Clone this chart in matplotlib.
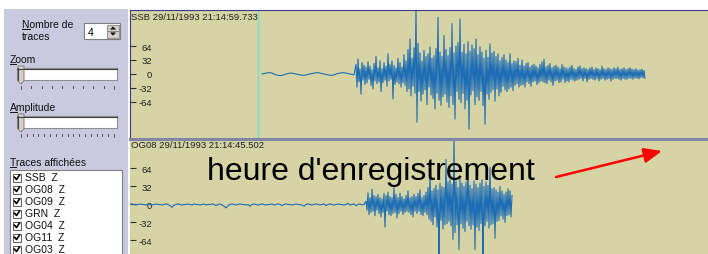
import numpy as np
import matplotlib
matplotlib.use("Agg")
import matplotlib.pyplot as plt
from matplotlib.patches import Rectangle, Polygon

plt.rcParams["axes.unicode_minus"] = False

# ---- data ----
n_traces = 4
stations = ["SSB  Z", "OG08  Z", "OG09  Z", "GRN  Z", "OG04  Z", "OG11  Z", "OG03  Z"]
trace_titles = ["SSB 29/11/1993 21:14:59.733", "OG08 29/11/1993 21:14:45.502"]
amp_ticks = [64, 32, 0, -32, -64]
window = 57.8        # seconds shown in each trace panel
dt_noise = 0.2       # pre-event noise, decimated
dt_event = 0.1       # event part

ssb_pick = 12.8
ssb_noise_t0 = 13.2
ssb_noise = [
    0, 1, 2, 3, 3, 2, 0, -2, -3, -4, -3, -2, 0, 1, 2, 2, 1, 0, -1, -2, -3, -3, -2, -1,
    0, 1, 2, 3, 3, 2, 1, 0, -1, -2, -3, -3, -2, 0, 1, 2, 3, 3, 2, 1, 0, -1, -2,
]
ssb_event_t0 = 22.6
ssb_event = [
    22, -30, 34, -18, 12, -46, 26, -14, 20, -24,
    16, -20, 28, -12, 18, -26, 10, -34, 24, -16,
    40, -22, 14, -18, 30, -40, 12, -20, 26, -14,
    18, -28, 46, -16, 22, -12, 30, -57, 20, -24,
    14, -18, 36, -22, 26, -30, 16, -20, 44, -26,
    30, -40, 56, -34, 80, -50, 36, -28, 60, -44,
    150, -110, 70, -40, 48, -62, 30, -46, 54, -36,
    40, -70, 46, -30, 62, -48, 36, -56, 42, -80,
    58, -44, 130, -60, 50, -72, 40, -52, 88, -46,
    56, -64, 42, -76, 60, -50, 115, -70, 48, -103,
    64, -40, 72, -58, 126, -66, 50, -44, 68, -80,
    46, -60, 74, -126, 52, -48, 66, -38, 58, -70,
    80, -52, 44, -60, 62, -40, 50, -72, 36, -115,
    54, -46, 38, -58, 69, -42, 48, -36, 52, -62,
    40, -34, 46, -50, 30, -42, 38, -28, 44, -36,
    32, -40, 26, -34, 46, -30, 24, -38, 30, -26,
    28, -22, 36, -30, 20, -26, 32, -24, 18, -30,
    24, -18, 26, -22, 16, -28, 20, -18, 22, -16,
    18, -24, 14, -20, 22, -16, 28, -18, 34, -20,
    16, -22, 20, -14, 24, -18, 14, -26, 18, -16,
    20, -14, 16, -20, 12, -18, 22, -12, 16, -20,
    14, -16, 12, -18, 16, -12, 20, -14, 12, -16,
    10, -14, 16, -12, 18, -10, 12, -16, 14, -10,
    12, -18, 10, -12, 14, -10, 16, -12, 10, -14,
    14, -10, 12, -16, 10, -12, 18, -10, 12, -14,
    10, -12, 14, -10, 12, -16, 10, -12, 14, -10,
    12, -10, 16, -12, 10, -14, 12, -10, 14, -12,
    10, -12, 12, -9, 14, -10, 11, -12, 10, -9,
    12, -10, 9, -11, 10, -8, 11, -9, 8, -10,
]

og08_noise_t0 = 0.0
og08_noise = [
    0, 1, 0, -1, 0, 1, 0, 0, -1, 1, 0, -1, 0, 1, 0, 0, -1, 0, 1, 0,
    -2, -5, -1, 0, 1, 0, -1, 0, 0, 1, 0, -1, 1, 0, 0, -1, 0, 1, -1, 0,
    0, 1, 0, -2, 0, 1, -1, -3, -6, -2, 0, 1, 0, -1, 0, 1, 0, 0, -1, 0,
    -3, 0, 1, 0, -1, 0, 1, 0, -1, 0, 0, 1, -1, 0, 1, 0, -2, 0, 1, 0,
    0, -1, 0, 1, 0, 0, -1, -3, 0, 1, 0, -1, 0, 1, 0, -1, 0, 1, -2, 0,
    1, 0, -1, 0, 1, 0, 0, -1, 0, 2, -1, 0, 1, -2, 0, 1, -1, 0,
]
og08_event_t0 = 23.6
og08_event = [
    6, -10, 21, -18, 12, -14, 27, -12, 16, -20,
    14, -10, 18, -16, 12, -22, 10, -14, 20, -40,
    16, -12, 22, -18, 14, -20, 12, -16, 30, -14,
    18, -24, 12, -16, 20, -12, 14, -18, 10, -14,
    16, -12, 24, -14, 12, -18, 14, -22, 18, -12,
    14, -16, 20, -12, 26, -18, 12, -20, 16, -14,
    22, -18, 30, -26, 53, -30, 24, -36, 28, -22,
    34, -40, 26, -95, 38, -28, 32, -44, 30, -36,
    80, -34, 40, -30, 44, -38, 36, -62, 120, -50,
    42, -36, 30, -80, 46, -34, 38, -42, 32, -48,
    40, -30, 71, -38, 34, -44, 28, -36, 42, -80,
    36, -40, 30, -46, 38, -34, 44, -95, 32, -38,
    40, -30, 34, -42, 66, -36, 28, -34, 30, -60,
    26, -30, 22, -28, 32, -20, 24, -26, 18, -32,
    22, -20, 28, -18, 24, -22, 16,
]

# ---- look ----
W, H = 708, 255
khaki = "#d6d3a4"
lav = "#c9c9df"
wave = "#1c6db5"
frame = "#3a3a8a"
small = ["Liberation Sans", "DejaVu Sans"]

fig = plt.figure(figsize=(W / 100, H / 100), dpi=100)
fig.patch.set_facecolor("white")

# background UI layer in pixel coordinates
ui = fig.add_axes([0, 0, 1, 1], zorder=0)
ui.set_xlim(0, W)
ui.set_ylim(H, 0)
ui.axis("off")

ui.add_patch(Rectangle((4, 10), 124, 245, fc=lav, ec="none"))


def label(x, y, s, ul=None):
    ui.text(x, y, s, fontsize=7.5, family=small, va="center", ha="left", color="#101010")
    if ul:
        ui.plot([x, x + ul], [y + 4.5, y + 4.5], color="#101010", lw=0.7)


label(22, 25, "Nombre de", ul=7.5)
label(22, 37, "traces")
ui.add_patch(Rectangle((84, 24), 36, 16, fc="white", ec="#7f7f7f", lw=0.8))
ui.text(88, 32.5, str(n_traces), fontsize=7.5, family=small, va="center")
ui.add_patch(Rectangle((107, 25.5), 12, 13, fc="#d4d0c8", ec="#808080", lw=0.6))
ui.plot([107, 119], [32, 32], color="#808080", lw=0.6)
ui.add_patch(Polygon([(110, 30.5), (116, 30.5), (113, 27.5)], fc="black", ec="none"))
ui.add_patch(Polygon([(110, 33.5), (116, 33.5), (113, 36.5)], fc="black", ec="none"))


def slider(y, nticks):
    ui.add_patch(Rectangle((17, y), 100, 12, fc="white", ec="#909090", lw=0.8))
    ui.plot([17, 117], [y + 0.5, y + 0.5], color="#404040", lw=0.8)
    ui.plot([17.5, 17.5], [y, y + 12], color="#404040", lw=0.8)
    ui.add_patch(Polygon([(18, y - 2), (24, y - 2), (24, y + 13), (21, y + 16), (18, y + 13)],
                         fc="#d4d0c8", ec="#808080", lw=0.7))
    for i, x in enumerate(np.linspace(21, 114, nticks)):
        ln = 3 if i in (0, nticks - 1) else 1.5
        ui.plot([x, x], [y + 18, y + 18 + ln], color="#505050", lw=0.7)


label(10, 60, "Zoom", ul=6.4)
slider(69, 10)
label(10, 108, "Amplitude", ul=6.9)
slider(117, 17)
label(10, 163, "Traces affichées", ul=6.4)

ui.add_patch(Rectangle((10, 171), 112, 90, fc="white", ec="#808080", lw=0.8))
for i, name in enumerate(stations):
    y = 178.5 + 12 * i
    ui.add_patch(Rectangle((13, y - 4), 8, 8, fc="white", ec="#404040", lw=0.6))
    ui.plot([14.5, 16.5, 19.5], [y - 0.3, y + 2, y - 2.5], color="black", lw=1.2)
    ui.text(25, y, name, fontsize=7.5, family=small, va="center", color="#101010")


# ---- trace panels ----
def trace_axes(bottom, top, noise, noise_t0, event, event_t0, ylim, title):
    ax = fig.add_axes([130 / W, 1 - bottom / H, 1 - 130 / W, (bottom - top) / H], zorder=1)
    ax.set_facecolor(khaki)
    t = np.concatenate([noise_t0 + dt_noise * np.arange(len(noise)),
                        event_t0 + dt_event * np.arange(len(event))])
    ax.plot(t, list(noise) + list(event), color=wave, lw=0.8)
    ax.set_xlim(0, window)
    ax.set_ylim(*ylim)
    ax.set_xticks([])
    ax.set_yticks(amp_ticks)
    ax.set_yticklabels([str(v) for v in amp_ticks], family=small)
    ax.tick_params(axis="y", direction="in", length=4, width=0.8, color="#303030",
                   pad=-16, labelsize=6.8, labelcolor="#202020")
    ax.text(0.002, 1 - 6 / (bottom - top), title, transform=ax.transAxes, fontsize=6.8,
            family=small, va="center", ha="left", color="#202020")
    for s in ax.spines.values():
        s.set_visible(False)
    return ax


ax1 = trace_axes(140, 11, ssb_noise, ssb_noise_t0, ssb_event, ssb_event_t0,
                 (-148.6, 146.3), trace_titles[0])
ax1.axvline(ssb_pick, color="#74e2d2", lw=1)
ax1.spines["top"].set_visible(True)
ax1.spines["top"].set_color(frame)
ax1.spines["left"].set_visible(True)
ax1.spines["left"].set_color(frame)

ax2 = trace_axes(255, 140, og08_noise, og08_noise_t0, og08_event, og08_event_t0,
                 (-88, 116.4), trace_titles[1])

# overlay: separator, annotation text and arrow
ov = fig.add_axes([0, 0, 1, 1], zorder=3)
ov.set_xlim(0, W)
ov.set_ylim(H, 0)
ov.axis("off")
ov.patch.set_alpha(0)
ov.plot([130, W], [140, 140], color="#8484a4", lw=2.2)
ov.text(207, 180, "heure d'enregistrement", fontsize=23, family=["Liberation Sans", "DejaVu Sans"],
        va="baseline", ha="left", color="black")
ov.annotate("", xy=(662, 152), xytext=(556, 178),
            arrowprops=dict(arrowstyle="-|>,head_length=0.6,head_width=0.25", color="red",
                            lw=1.8, mutation_scale=18, shrinkA=0, shrinkB=0))

fig.savefig("out.png", dpi=100)
